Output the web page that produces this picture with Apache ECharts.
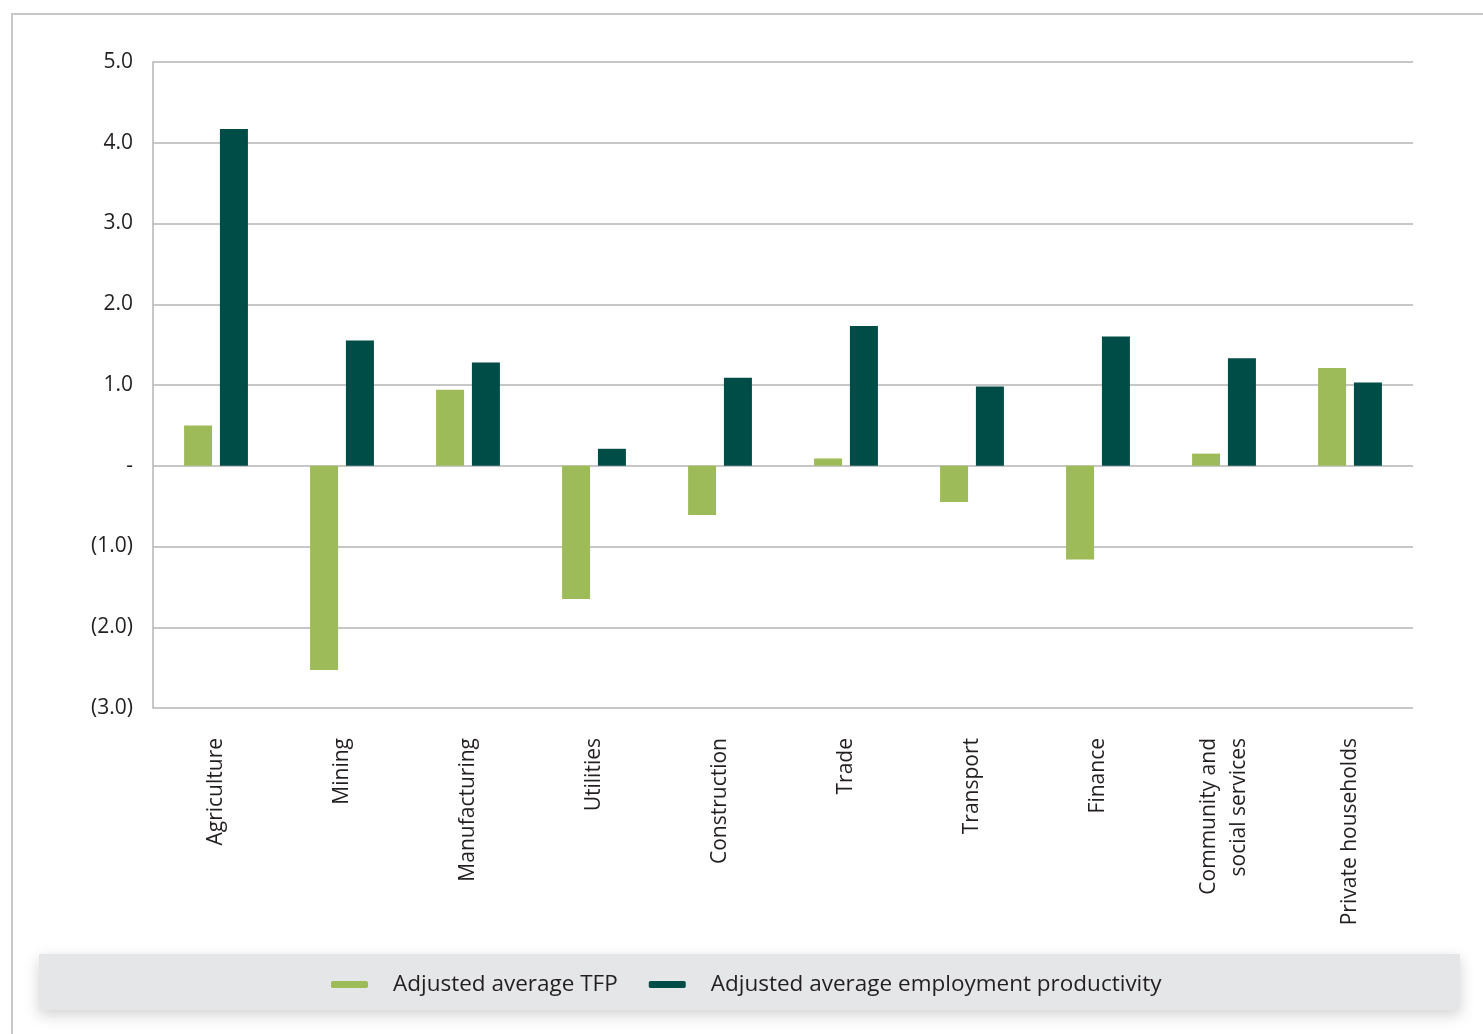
<!DOCTYPE html>
<html>
<head>
<meta charset="utf-8">
<script src="https://cdn.jsdelivr.net/npm/echarts@6/dist/echarts.min.js"></script>
<style>
html,body{margin:0;padding:0;background:#fff;}
#chart{width:1483px;height:1034px;}
</style>
</head>
<body>
<div id="chart"></div>
<script>
const categories = ['Agriculture','Mining','Manufacturing','Utilities','Construction','Trade','Transport','Finance','Community and\nsocial services','Private households'];
const tfpValues = [0.50, -2.53, 0.94, -1.65, -0.61, 0.09, -0.45, -1.16, 0.15, 1.21];
const empValues = [4.17, 1.55, 1.28, 0.21, 1.09, 1.73, 0.98, 1.60, 1.33, 1.03];
const seriesNames = ['Adjusted average TFP','Adjusted average employment productivity'];
const yTicks = {min: -3, max: 5, interval: 1};

const FONT = '"Open Sans", "DejaVu Sans", sans-serif';
const chart = echarts.init(document.getElementById('chart'), null, {renderer:'canvas'});
chart.setOption({
  backgroundColor: '#fff',
  animation: false,
  graphic: [
    {type:'rect', z:-10, shape:{x:12,y:14,width:1600,height:1200}, style:{fill:'none', stroke:'#c8c8ca', lineWidth:2}},
    {type:'rect', z:-5, shape:{x:39,y:954,width:1421,height:56}, style:{fill:'#e5e6e7', shadowBlur:14, shadowColor:'rgba(0,0,0,0.18)', shadowOffsetY:5}}
  ],
  grid: {left:153, right:70, top:62, bottom:326, containLabel:false},
  legend: {
    top: 973, left: 331, padding: 0,
    icon: 'roundRect', itemWidth: 37, itemHeight: 7, itemGap: 31,
    textStyle: {fontFamily: FONT, fontSize: 22.5, color:'#231f20', padding:[0,0,0,20]},
    data: seriesNames
  },
  xAxis: {
    type: 'category', data: categories,
    axisLine: {show:false}, axisTick: {show:false},
    axisLabel: {rotate: 90, margin: 30, fontFamily: FONT, fontSize: 21, color:'#231f20', lineHeight: 30, interval:0}
  },
  yAxis: {
    type: 'value', min: yTicks.min, max: yTicks.max, interval: yTicks.interval,
    axisLine: {show:true, lineStyle:{color:'#b4b4b4', width:1.5}},
    axisTick: {show:false},
    splitLine: {lineStyle:{color:'#b4b4b4', width:1.5}},
    axisLabel: {
      margin: 20, fontFamily: FONT, fontSize: 21, color:'#231f20',
      formatter: v => v === 0 ? '-' : (v < 0 ? '(' + Math.abs(v).toFixed(1) + ')' : v.toFixed(1))
    }
  },
  series: [
    {name: seriesNames[0], type:'bar', data: tfpValues, barWidth: 28, barGap: '28%', itemStyle:{color:'#9dbb58'}},
    {name: seriesNames[1], type:'bar', data: empValues, barWidth: 28, barGap: '28%', itemStyle:{color:'#004c47'}}
  ]
});
</script>
</body>
</html>
